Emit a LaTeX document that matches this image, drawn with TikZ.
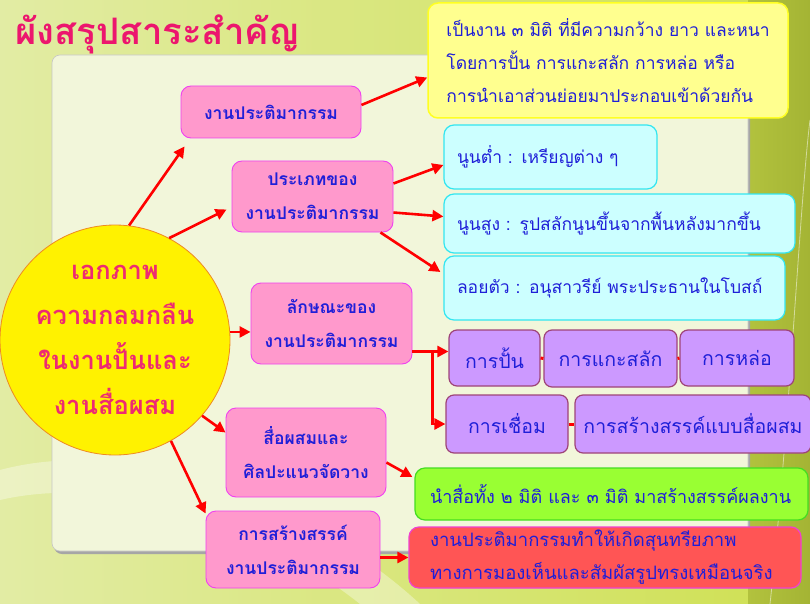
\documentclass[tikz,border=0pt]{standalone}
\usepackage{fontspec}
\newfontfamily\thaifont[Script=Thai]{Loma}
\usetikzlibrary{arrows.meta}

\definecolor{bgleft}{HTML}{E2ECA4}
\definecolor{bgright}{HTML}{D0E158}
\definecolor{olivea}{HTML}{B2C23E}
\definecolor{oliveb}{HTML}{A4B434}
\definecolor{panelfill}{HTML}{F2F6DA}
\definecolor{titlepink}{HTML}{EC166E}
\definecolor{circtext}{HTML}{EE2A72}
\definecolor{circline}{HTML}{EE8A22}
\definecolor{txtblue}{HTML}{1F1FD8}
\definecolor{pinkfill}{HTML}{FF99CC}
\definecolor{pinkline}{HTML}{F040F0}
\definecolor{yfill}{HTML}{FFFF8F}
\definecolor{yline}{HTML}{FFFF22}
\definecolor{cfill}{HTML}{CCFFFF}
\definecolor{cline}{HTML}{33E6F0}
\definecolor{purfill}{HTML}{CC99FF}
\definecolor{purline}{HTML}{9E4478}
\definecolor{gfill}{HTML}{99FF33}
\definecolor{gline}{HTML}{44DD22}
\definecolor{rfill}{HTML}{FF5555}
\definecolor{rline}{HTML}{F040D0}
\definecolor{arrred}{HTML}{FF0000}

\tikzset{
  arr/.style={draw=arrred, line width=2.6pt, -{Triangle[length=11pt,width=11pt]}},
  topicbox/.style={draw=pinkline, fill=pinkfill, line width=0.9pt, rounded corners=10pt,
    text=txtblue, align=center, inner sep=0pt, font=\thaifont\bfseries\fontsize{17.5}{34}\selectfont},
  notebox/.style={rounded corners=10pt, line width=1.2pt, text=txtblue, align=left,
    inner sep=0pt, inner xsep=13pt, font=\thaifont\fontsize{17.5}{33}\selectfont},
  kindbox/.style={draw=purline, fill=purfill, line width=1.2pt, rounded corners=8pt,
    text=txtblue, inner sep=0pt, font=\thaifont\fontsize{19.5}{22}\selectfont},
}

\begin{document}
\begin{tikzpicture}[x=1pt,y=-1pt]
\useasboundingbox (0,0) rectangle (810,604);
% background and panel
\shade[left color=bgleft, right color=bgright] (0,0) rectangle (748,604);
\shade[left color=olivea, right color=oliveb] (748,0) rectangle (810,604);
\fill[white, opacity=0.35] (0,470) .. controls (150,430) and (330,520) .. (420,604) -- (360,604) .. controls (280,540) and (130,470) .. (0,500) -- cycle;
\draw[white, opacity=0.5, line width=0.8pt] (770,604) .. controls (790,420) and (800,200) .. (810,120);
\fill[black!35, rounded corners=8pt] (54,58) rectangle (750,554);
\fill[panelfill, rounded corners=8pt, draw=gray!45, line width=0.6pt] (52,55) rectangle (748,551);

\node[font=\thaifont\bfseries\fontsize{36.5}{40}\selectfont, text=titlepink, anchor=west] (title) at (12,34) {ผังสรุปสาระสำคัญ};

% centre
\node[circle, fill=yellow, draw=circline, line width=0.8pt, minimum size=230pt, inner sep=0pt,
  text=circtext, align=center, font=\thaifont\bfseries\fontsize{25.5}{45}\selectfont] (unity) at (115,340)
  {เอกภาพ\\ความกลมกลืน\\ในงานปั้นและ\\งานสื่อผสม};

% topics
\node[topicbox, minimum width=180pt, minimum height=52pt] (sculpt) at (271,112) {งานประติมากรรม};
\node[topicbox, minimum width=161pt, minimum height=71pt] (types) at (312.5,196.5) {ประเภทของ\\งานประติมากรรม};
\node[topicbox, minimum width=161pt, minimum height=81pt] (traits) at (331.5,323.5) {ลักษณะของ\\งานประติมากรรม};
\node[topicbox, minimum width=160pt, minimum height=89pt] (mixed) at (306,452.5) {สื่อผสมและ\\ศิลปะแนวจัดวาง};
\node[topicbox, minimum width=174pt, minimum height=77pt] (create) at (293,549.5) {การสร้างสรรค์\\งานประติมากรรม};

% notes
\node[notebox, draw=yline, fill=yfill, line width=1.5pt, minimum width=360pt, minimum height=115pt] (define) at (608,60.5)
  {เป็นงาน ๓ มิติ ที่มีความกว้าง ยาว และหนา\\โดยการปั้น การแกะสลัก การหล่อ หรือ\\การนำเอาส่วนย่อยมาประกอบเข้าด้วยกัน};
\node[notebox, draw=cline, fill=cfill, minimum width=213pt, minimum height=64pt, text width=187pt] (low) at (550.5,157) {นูนต่ำ : เหรียญต่าง ๆ};
\node[notebox, draw=cline, fill=cfill, minimum width=351pt, minimum height=59pt, text width=325pt] (high) at (619.5,223.5) {นูนสูง : รูปสลักนูนขึ้นจากพื้นหลังมากขึ้น};
\node[notebox, draw=cline, fill=cfill, minimum width=341pt, minimum height=64pt, text width=315pt] (round) at (614.5,288) {ลอยตัว : อนุสาวรีย์ พระประธานในโบสถ์};

\node[kindbox, minimum width=91pt, minimum height=56pt] (mold) at (494.5,358) {การปั้น};
\node[kindbox, minimum width=133pt, minimum height=57pt] (carve) at (610.5,358.5) {การแกะสลัก};
\node[kindbox, minimum width=114pt, minimum height=56pt] (cast) at (737,358) {การหล่อ};
\node[kindbox, minimum width=122pt, minimum height=58pt] (weld) at (507,424) {การเชื่อม};
\node[kindbox, minimum width=236pt, minimum height=58pt] (assemble) at (693,424) {การสร้างสรรค์แบบสื่อผสม};

\node[notebox, draw=gline, fill=gfill, inner xsep=15pt, minimum width=393pt, minimum height=52pt, text width=363pt,
  font=\thaifont\fontsize{18}{33}\selectfont] (media) at (611.5,494)
  {นำสื่อทั้ง ๒ มิติ และ ๓ มิติ มาสร้างสรรค์ผลงาน};
\node[notebox, draw=rline, fill=rfill, inner xsep=21pt, minimum width=392pt, minimum height=61pt, text width=350pt,
  font=\thaifont\fontsize{18.5}{33}\selectfont] (aesth) at (605,557.5)
  {งานประติมากรรมทำให้เกิดสุนทรียภาพ\\ทางการมองเห็นและสัมผัสรูปทรงเหมือนจริง};

% arrows
\draw[arr] (unity.83) -- ([shift={(4,8)}]sculpt.south west);
\draw[arr] (unity.62) -- ([shift={(-5,13)}]types.west);
\draw[arr] (unity.4) -- (traits.west |- unity.4);
\draw[arr] (unity.-41) -- ([shift={(0,-20)}]mixed.west);
\draw[arr] (unity.-61) -- ([shift={(0,3)}]create.north west);
\draw[arr] ([shift={(0,-7)}]sculpt.east) -- ([shift={(0,17)}]define.west);
\draw[arr] ([shift={(0,-13)}]types.east) -- ([shift={(0,8)}]low.west);
\draw[arr] ([shift={(0,16)}]types.east) -- ([shift={(0,-7)}]high.west);
\draw[arr] ([shift={(-13,0)}]types.south east) -- ([shift={(-3,-16)}]round.west);
\coordinate (fork) at ([shift={(20,28)}]traits.east);
\draw[arr] ([shift={(0,28)}]traits.east) -- (fork -| mold.west);
\draw[arr] (fork) |- (weld.west);
\draw[arr] ([shift={(0,10)}]mixed.east) -- ([shift={(-2,-17)}]media.west);
\draw[arr] (create.east |- aesth.west) -- (aesth.west);
% links between the techniques
\draw[arrred, line width=3pt] (mold.east) -- (carve.west);
\draw[arrred, line width=3pt] (carve.east) -- (cast.west);
\draw[arrred, line width=3pt] (weld.east) -- (assemble.west);
\end{tikzpicture}
\end{document}
